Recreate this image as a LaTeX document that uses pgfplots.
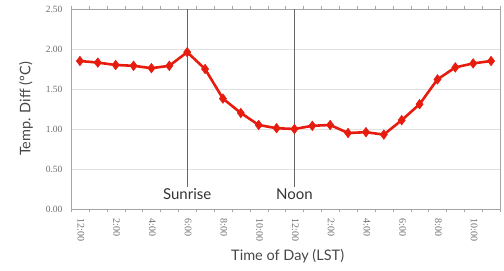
\documentclass[border=0pt]{standalone}
\usepackage{pgfplots}
\pgfplotsset{compat=1.18}
\usepackage{fontspec}
\setmainfont{Liberation Serif}
\newfontfamily\labelfont{Lato}
\definecolor{linered}{RGB}{230,28,15}
\definecolor{gridgray}{RGB}{225,225,225}
\definecolor{axgray}{RGB}{165,165,165}
\definecolor{txtgray}{RGB}{110,110,110}
\begin{document}
\begin{tikzpicture}
\begin{axis}[
  scale only axis,
  width=429pt, height=200pt,
  xmin=-0.5, xmax=23.5,
  ymin=0, ymax=2.5,
  ytick={0,0.5,1,1.5,2,2.5},
  /pgf/number format/fixed,
  /pgf/number format/fixed zerofill,
  /pgf/number format/precision=2,
  /pgf/number format/assume math mode=true,
  yticklabel style={font=\fontsize{9.5}{10}\selectfont, text=txtgray, xshift=-5pt},
  xtick={0,2,...,22},
  xticklabels={12:00,2:00,4:00,6:00,8:00,10:00,12:00,2:00,4:00,6:00,8:00,10:00},
  xticklabel style={rotate=-90, anchor=west, font=\fontsize{10}{11}\selectfont, text=txtgray, xshift=6pt, yshift=1pt},
  minor xtick={-0.5,0.5,...,23.5},
  major tick length=0pt,
  minor tick length=3pt,
  tick align=outside,
  tick style={axgray},
  ymajorgrids,
  major grid style={gridgray, line width=0.6pt},
  axis line style={axgray, line width=0.8pt},
  xlabel={\labelfont Time of Day (LST)},
  ylabel={\labelfont Temp. Diff (ºC)},
  label style={font=\fontsize{14.5}{16}\selectfont, text=black!72},
  xlabel style={at={(axis description cs:0.505,-0.235)}, anchor=center},
  ylabel style={at={(axis description cs:-0.105,0.5)}, anchor=center},
  clip=false,
]
\draw[gray!80!black, line width=0.7pt] (axis cs:6,2.5) -- (axis cs:6,0.27);
\draw[gray!80!black, line width=0.7pt] (axis cs:12,2.5) -- (axis cs:12,0.27);
\node[anchor=north, font=\labelfont\fontsize{15}{17}\selectfont, text=black!80, inner sep=1pt] at (axis cs:6,0.27) {Sunrise};
\node[anchor=north, font=\labelfont\fontsize{15}{17}\selectfont, text=black!80, inner sep=1pt] at (axis cs:12,0.27) {Noon};
\addplot[linered, line width=2.6pt, mark=diamond*, mark size=4.8pt, mark options={fill=linered, draw=linered, line width=0.5pt}] coordinates {
(0,1.85) (1,1.83) (2,1.80) (3,1.79) (4,1.76) (5,1.79)
(6,1.96) (7,1.75) (8,1.38) (9,1.20) (10,1.05) (11,1.01)
(12,1.00) (13,1.04) (14,1.05) (15,0.95) (16,0.96) (17,0.93)
(18,1.11) (19,1.31) (20,1.62) (21,1.77) (22,1.82) (23,1.85)
};
\end{axis}
\pgfresetboundingbox
\path ([shift={(-71pt,-62pt)}]current axis.south west) rectangle ([shift={(4pt,9pt)}]current axis.north east);
\end{tikzpicture}
\end{document}
